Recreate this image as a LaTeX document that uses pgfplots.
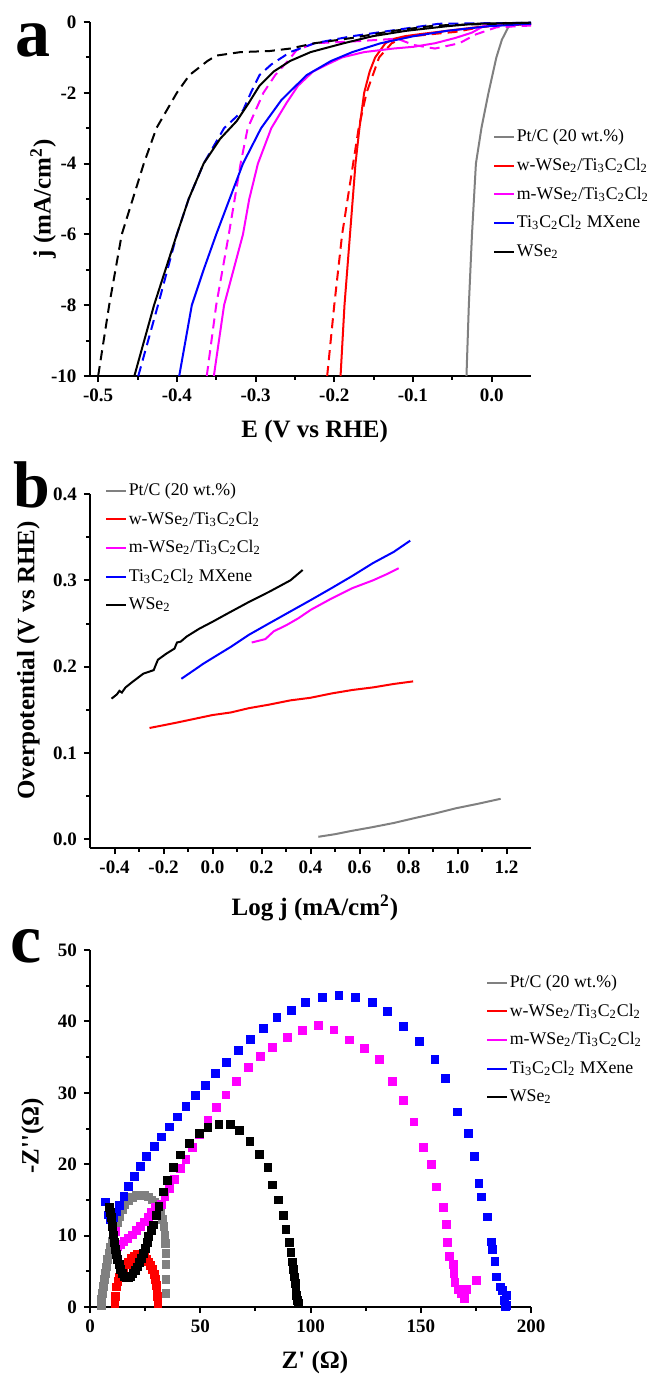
\documentclass[border=0pt]{standalone}
\usepackage{fontspec}
\setmainfont{Liberation Serif}
\usepackage{pgfplots}
\pgfplotsset{compat=1.18}

\definecolor{ptgray}{RGB}{128,128,128}
\definecolor{magen}{RGB}{255,0,255}

\pgfplotsset{
  panel/.style={
    scale only axis,
    axis lines=left,
    axis line style={line width=1pt,-},
    tick style={line width=1pt,black},
    tick align=outside,
    major tick length=3pt,
    minor tick length=1.8pt,
    minor tick num=1,
    /pgf/number format/assume math mode=true,
    tick label style={font=\fontsize{9.5}{10}\selectfont\bfseries},
    label style={font=\fontsize{12.5}{14}\selectfont\bfseries},
    legend cell align=left,
    legend style={draw=none, fill=none, font=\fontsize{8.9}{10}\selectfont,
                  inner sep=0pt, row sep=5.3pt, column sep=0pt,
                  nodes={inner sep=0.7pt}},
    legend image code/.code={\draw[##1] (0pt,0pt) -- (10pt,0pt);},
  },
  every axis plot/.append style={line width=1pt},
}

\begin{document}
\begin{tikzpicture}
\useasboundingbox (0pt,0pt) rectangle (324.5pt,-687pt);

% ---------------- panel a: polarisation curves
\begin{axis}[panel,
  at={(44.75pt,-188pt)}, anchor=south west,
  width=220.75pt, height=177pt,
  xmin=-0.511, xmax=0.05, ymin=-10, ymax=0,
  xtick={-0.5,-0.4,-0.3,-0.2,-0.1,0},
  xticklabels={-0.5,-0.4,-0.3,-0.2,-0.1,0.0},
  ytick={-10,-8,-6,-4,-2,0},
  yticklabels={-10,-8,-6,-4,-2,0},
  xlabel={E (V vs RHE)},
  ylabel={j (mA/cm\textsuperscript{2})},
  xlabel style={at={(axis description cs:0.51,-0.158)}, anchor=center},
  ylabel style={at={(axis description cs:-0.105,0.5)}, anchor=center},
  legend style={at={(axis description cs:0.914,0.702)}, anchor=north west},
]
\addlegendimage{ptgray}
\addlegendimage{red}
\addlegendimage{magen}
\addlegendimage{blue}
\addlegendimage{black}
\legend{Pt/C (20 wt.\%),
  w-WSe\textsubscript{2}/Ti\textsubscript{3}C\textsubscript{2}Cl\textsubscript{2},
  m-WSe\textsubscript{2}/Ti\textsubscript{3}C\textsubscript{2}Cl\textsubscript{2},
  Ti\textsubscript{3}C\textsubscript{2}Cl\textsubscript{2} MXene,
  WSe\textsubscript{2}}

\addplot[ptgray, forget plot] coordinates {(-0.032,-10) (-0.029,-8) (-0.025,-6) (-0.020,-4) (-0.013,-3) (-0.004,-2) (0.001,-1.5) (0.006,-1) (0.013,-0.5) (0.021,-0.15) (0.027,-0.05) (0.05,-0.03)};

\addplot[red, forget plot] coordinates {(-0.192,-10) (-0.187,-8) (-0.180,-6) (-0.173,-4) (-0.168,-3) (-0.162,-2) (-0.155,-1.4) (-0.148,-1) (-0.135,-0.6) (-0.125,-0.48) (-0.110,-0.40) (-0.090,-0.34) (-0.057,-0.25) (-0.020,-0.15) (0.006,-0.08) (0.05,-0.05)};
\addplot[red, dash pattern=on 5pt off 3pt, forget plot] coordinates {(-0.209,-10) (-0.200,-8) (-0.190,-6) (-0.176,-4) (-0.169,-3) (-0.159,-2) (-0.143,-1) (-0.127,-0.6) (-0.112,-0.45) (-0.10,-0.40) (-0.07,-0.33) (-0.046,-0.28) (-0.015,-0.15) (0.01,-0.09) (0.05,-0.07)};

\addplot[magen, forget plot] coordinates {(-0.353,-10) (-0.340,-8) (-0.328,-7) (-0.316,-6) (-0.308,-5) (-0.297,-4) (-0.280,-3) (-0.261,-2.3) (-0.246,-1.8) (-0.227,-1.4) (-0.209,-1.2) (-0.190,-1.0) (-0.162,-0.85) (-0.125,-0.75) (-0.099,-0.7) (-0.072,-0.6) (-0.046,-0.45) (-0.025,-0.3) (-0.009,-0.1) (0.05,-0.05)};
\addplot[magen, dash pattern=on 5pt off 3pt, forget plot] coordinates {(-0.362,-10) (-0.350,-8) (-0.334,-6) (-0.319,-4) (-0.310,-3) (-0.290,-2) (-0.275,-1.5) (-0.259,-1.1) (-0.248,-0.8) (-0.225,-0.6) (-0.177,-0.55) (-0.140,-0.5) (-0.12,-0.47) (-0.099,-0.65) (-0.072,-0.75) (-0.041,-0.6) (-0.02,-0.35) (0.006,-0.15) (0.05,-0.1)};

\addplot[blue, forget plot] coordinates {(-0.397,-10) (-0.381,-8) (-0.366,-7) (-0.350,-6) (-0.333,-5) (-0.316,-4) (-0.293,-3) (-0.267,-2.2) (-0.235,-1.5) (-0.204,-1.1) (-0.177,-0.85) (-0.141,-0.6) (-0.099,-0.4) (-0.057,-0.25) (-0.004,-0.12) (0.05,-0.05)};
\addplot[blue, dash pattern=on 5pt off 3pt, forget plot] coordinates {(-0.449,-10) (-0.424,-8) (-0.400,-6) (-0.385,-5) (-0.366,-4) (-0.340,-3) (-0.316,-2.5) (-0.306,-2) (-0.295,-1.5) (-0.280,-1.2) (-0.256,-0.85) (-0.225,-0.6) (-0.177,-0.4) (-0.114,-0.2) (-0.067,-0.05) (0.05,-0.02)};

\addplot[black, forget plot] coordinates {(-0.454,-10) (-0.429,-8) (-0.400,-6) (-0.385,-5) (-0.366,-4) (-0.345,-3.3) (-0.324,-2.8) (-0.309,-2.3) (-0.295,-1.8) (-0.277,-1.4) (-0.256,-1.1) (-0.230,-0.85) (-0.188,-0.6) (-0.151,-0.4) (-0.109,-0.25) (-0.057,-0.12) (-0.020,-0.05) (0.05,-0.02)};
\addplot[black, dash pattern=on 5pt off 3pt, forget plot] coordinates {(-0.500,-10) (-0.486,-8) (-0.470,-6) (-0.456,-5) (-0.442,-4) (-0.434,-3.5) (-0.426,-3) (-0.413,-2.5) (-0.400,-2) (-0.384,-1.5) (-0.361,-1.1) (-0.350,-0.95) (-0.319,-0.85) (-0.282,-0.82) (-0.256,-0.75) (-0.225,-0.6) (-0.177,-0.45) (-0.125,-0.25) (-0.072,-0.1) (0.05,-0.02)};
\end{axis}

% ---------------- panel b: Tafel plots
\begin{axis}[panel,
  at={(45pt,-424pt)}, anchor=south west,
  width=220.5pt, height=177pt,
  xmin=-0.5, xmax=1.3, ymin=-0.01, ymax=0.4,
  xtick={-0.4,-0.2,0,0.2,0.4,0.6,0.8,1.0,1.2},
  xticklabels={-0.4,-0.2,0.0,0.2,0.4,0.6,0.8,1.0,1.2},
  ytick={0,0.1,0.2,0.3,0.4},
  yticklabels={0.0,0.1,0.2,0.3,0.4},
  xlabel={Log j (mA/cm\textsuperscript{2})},
  ylabel={Overpotential (V vs RHE)},
  xlabel style={at={(axis description cs:0.51,-0.17)}, anchor=center},
  ylabel style={at={(axis description cs:-0.14,0.53)}, anchor=center},
  legend style={at={(axis description cs:0.034,1.036)}, anchor=north west},
]
\addlegendimage{ptgray}
\addlegendimage{red}
\addlegendimage{magen}
\addlegendimage{blue}
\addlegendimage{black}
\legend{Pt/C (20 wt.\%),
  w-WSe\textsubscript{2}/Ti\textsubscript{3}C\textsubscript{2}Cl\textsubscript{2},
  m-WSe\textsubscript{2}/Ti\textsubscript{3}C\textsubscript{2}Cl\textsubscript{2},
  Ti\textsubscript{3}C\textsubscript{2}Cl\textsubscript{2} MXene,
  WSe\textsubscript{2}}

\addplot[ptgray, forget plot] coordinates {(0.432,0.003) (0.50,0.006) (0.571,0.010) (0.65,0.014) (0.74,0.019) (0.83,0.025) (0.909,0.030) (0.993,0.036) (1.08,0.041) (1.176,0.047)};
\addplot[red, forget plot] coordinates {(-0.257,0.129) (-0.15,0.135) (-0.05,0.141) (0,0.144) (0.075,0.147) (0.149,0.152) (0.23,0.156) (0.318,0.161) (0.40,0.164) (0.486,0.169) (0.57,0.173) (0.655,0.176) (0.74,0.180) (0.819,0.183)};
\addplot[blue, forget plot] coordinates {(-0.127,0.186) (-0.06,0.199) (-0.04,0.203) (0,0.210) (0.075,0.223) (0.149,0.237) (0.23,0.250) (0.318,0.264) (0.40,0.277) (0.486,0.291) (0.57,0.305) (0.655,0.320) (0.74,0.333) (0.807,0.346)};
\addplot[magen, forget plot] coordinates {(0.160,0.228) (0.216,0.232) (0.25,0.241) (0.301,0.248) (0.35,0.256) (0.402,0.266) (0.486,0.279) (0.571,0.291) (0.655,0.300) (0.71,0.307) (0.760,0.314)};
\addplot[black, forget plot] coordinates {(-0.412,0.163) (-0.39,0.168) (-0.38,0.172) (-0.37,0.170) (-0.355,0.176) (-0.324,0.183) (-0.282,0.192) (-0.24,0.196) (-0.223,0.208) (-0.189,0.215) (-0.155,0.221) (-0.145,0.228) (-0.13,0.229) (-0.105,0.235) (-0.054,0.244) (0,0.252) (0.064,0.262) (0.149,0.275) (0.233,0.287) (0.318,0.300) (0.368,0.312)};
\end{axis}

% ---------------- panel c: Nyquist plots
\begin{axis}[panel,
  at={(45pt,-653.5pt)}, anchor=south west,
  width=220.5pt, height=178.5pt,
  xmin=0, xmax=200, ymin=0, ymax=50,
  xtick={0,50,100,150,200},
  ytick={0,10,20,30,40,50},
  clip=false,
  xlabel={Z\textquotesingle{} (Ω)},
  ylabel={-Z\textquotesingle\textquotesingle(Ω)},
  xlabel style={at={(axis description cs:0.51,-0.154)}, anchor=center},
  ylabel style={at={(axis description cs:-0.13,0.48)}, anchor=center},
  legend style={at={(axis description cs:0.898,0.935)}, anchor=north west},
  every axis plot/.append style={only marks, mark=square*, mark size=1.7pt},
]
\addlegendimage{ptgray,no marks}
\addlegendimage{red,no marks}
\addlegendimage{magen,no marks}
\addlegendimage{blue,no marks}
\addlegendimage{black,no marks}
\legend{Pt/C (20 wt.\%),
  w-WSe\textsubscript{2}/Ti\textsubscript{3}C\textsubscript{2}Cl\textsubscript{2},
  m-WSe\textsubscript{2}/Ti\textsubscript{3}C\textsubscript{2}Cl\textsubscript{2},
  Ti\textsubscript{3}C\textsubscript{2}Cl\textsubscript{2} MXene,
  WSe\textsubscript{2}}

\addplot[ptgray, mark options={draw=ptgray,fill=ptgray}, forget plot] coordinates {(5.1,0.2) (5.3,1.0) (5.6,1.9) (6.0,2.9) (6.4,3.8) (6.9,4.7) (7.5,5.6) (8.1,6.6) (8.8,7.5) (9.4,8.4) (10.1,9.2) (10.8,10.0) (11.6,10.8) (12.5,11.8) (13.5,12.7) (14.6,13.6) (15.9,14.3) (17.5,14.9) (19.1,15.3) (21.0,15.6) (22.9,15.7) (24.8,15.6) (26.6,15.4) (28.1,15.0) (29.5,14.6) (30.8,13.9) (31.9,13.2) (32.9,12.3) (33.6,11.3) (34.0,10.1) (34.1,8.9) (34.5,7.5) (34.5,5.9) (34.5,3.8) (34.5,1.9)};
\addplot[red, mark options={draw=red,fill=red}, forget plot] coordinates {(11.3,0.5) (11.5,1.5) (12.0,2.8) (12.7,3.6) (13.5,4.2) (14.5,4.9) (15.4,5.4) (16.5,5.9) (17.6,6.3) (18.8,6.8) (20.1,7.1) (21.5,7.3) (22.9,7.3) (24.0,7.2) (24.8,7.0) (25.7,6.7) (26.6,6.3) (27.6,5.8) (28.5,5.2) (29.2,4.5) (29.8,3.8) (30.2,3.0) (30.4,2.4) (30.6,1.5) (30.8,0.5)};
\addplot[magen, mark options={draw=magen,fill=magen}, forget plot] coordinates {(11.6,10.6) (12.6,8.5) (14.0,8.8) (15.4,9.2) (17.2,9.6) (19.1,10.1) (21.0,10.7) (22.9,11.3) (24.8,11.9) (26.6,12.6) (28.0,13.2) (29.5,13.9) (32.3,14.4) (34.0,15.4) (36.0,16.6) (38.3,17.9) (41.1,19.4) (43.5,20.7) (46.5,22.3) (49.7,24.2) (53.5,26.1) (57.2,27.9) (61.7,29.7) (66.4,31.6) (71.7,33.5) (77.3,35.1) (82.9,36.3) (89.5,37.8) (96.4,38.7) (103.6,39.4) (110.7,38.8) (117.6,37.4) (124.6,36.2) (131.3,34.7) (137.3,31.6) (142.2,28.9) (146.9,25.9) (151.4,22.3) (154.8,20.0) (157.0,16.8) (160.2,13.9) (161.7,11.6) (162.3,9.0) (163.2,7.1) (164.9,5.9) (165.1,4.7) (165.5,3.4) (167.0,2.4) (168.5,1.9) (170.0,1.2) (170.7,2.4) (175.4,3.7)};
\addplot[blue, mark options={draw=blue,fill=blue}, forget plot] coordinates {(6.9,14.7) (8.3,12.9) (9.4,12.2) (10.7,12.5) (12.2,13.3) (13.5,14.2) (15.4,15.5) (17.6,16.9) (20.1,18.3) (22.9,19.7) (25.7,21.1) (29.1,22.5) (32.3,23.8) (36.0,25.2) (39.8,26.6) (43.5,28.1) (47.8,29.6) (52.3,31.0) (57.0,32.7) (61.9,34.3) (67.2,35.9) (72.8,37.5) (78.8,39.0) (84.8,40.5) (91.4,41.5) (97.9,42.7) (105.4,43.4) (112.9,43.6) (120.5,43.4) (128.0,42.7) (134.9,41.4) (142.0,39.3) (149.5,37.2) (156.5,34.7) (161.4,32.0) (166.6,27.3) (171.7,24.3) (174.3,21.1) (176.4,17.3) (177.7,15.4) (180.1,12.6) (182.0,9.1) (182.4,8.0) (183.7,6.4) (184.2,4.2) (186.1,2.8) (187.1,2.3) (189.0,1.6) (188.0,0.9) (189.0,0.2) (188.4,0)};
\addplot[black, mark options={draw=black,fill=black}, forget plot] coordinates {(8.8,13.9) (9.3,13.2) (9.8,12.5) (10.2,11.3) (10.7,10.1) (11.1,9.0) (11.6,8.0) (12.1,7.3) (12.6,6.6) (13.2,5.9) (13.9,5.2) (14.6,4.7) (15.4,4.3) (16.5,4.1) (17.6,4.1) (18.6,4.3) (19.5,4.7) (20.5,5.1) (21.4,5.6) (22.4,6.2) (23.3,6.8) (24.2,7.5) (25.1,8.2) (25.9,9.0) (26.6,9.9) (27.8,10.7) (28.9,11.5) (30.1,12.8) (31.3,14.1) (33.2,16.1) (35.1,17.7) (37.9,19.5) (41.1,21.3) (45.0,22.9) (49.7,24.3) (53.5,25.1) (58.5,25.6) (63.6,25.6) (67.9,24.7) (72.6,23.2) (76.9,21.4) (80.7,19.5) (82.9,17.1) (85.6,15.0) (87.6,12.8) (88.9,10.9) (90.4,9.0) (91.2,7.6) (91.7,6.3) (92.3,5.2) (92.7,4.2) (93.1,3.3) (93.4,2.4) (93.8,1.6) (94.2,0.9) (94.6,0.5)};
\end{axis}

\node[anchor=base west, inner sep=0pt, font=\fontsize{35}{38}\selectfont\bfseries] at (7.5pt,-28.5pt) {a};
\node[anchor=base west, inner sep=0pt, font=\fontsize{33}{36}\selectfont\bfseries] at (6.5pt,-253.5pt) {b};
\node[anchor=base west, inner sep=0pt, font=\fontsize{35}{38}\selectfont\bfseries] at (5pt,-481pt) {c};
\end{tikzpicture}
\end{document}
